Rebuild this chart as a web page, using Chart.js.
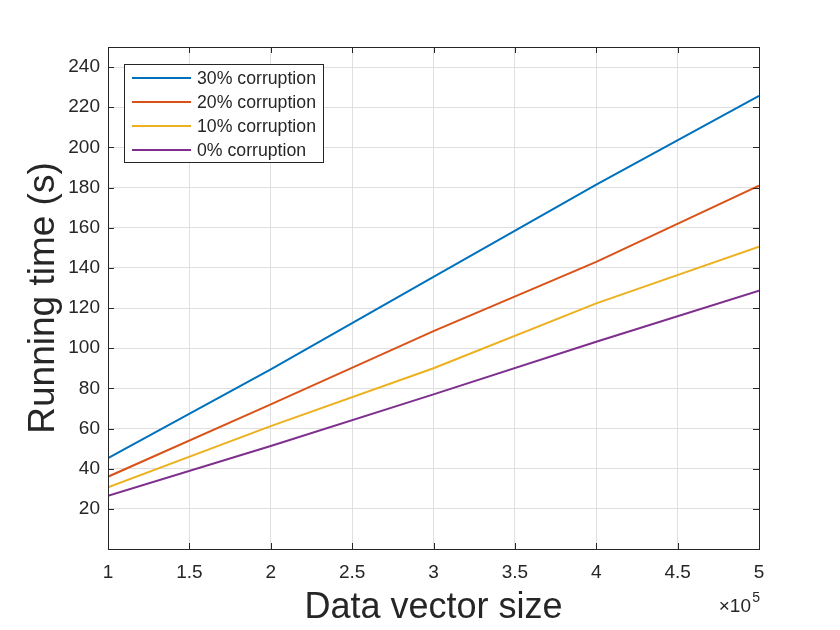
<!DOCTYPE html>
<html>
<head>
<meta charset="utf-8">
<script src="https://cdn.jsdelivr.net/npm/chart.js@4.4.0/dist/chart.umd.min.js"></script>
<style>
  html, body { margin: 0; padding: 0; background: #fff; }
  #wrap { width: 840px; height: 630px; }
</style>
</head>
<body>
<div id="wrap"><canvas id="chart"></canvas></div>
<script>
// data
var sizes = [100000, 200000, 300000, 400000, 500000];
var corr30 = [45.3, 89.5, 135.5, 181.5, 225.7];
var corr20 = [36.0, 72.0, 108.5, 143.0, 181.0];
var corr10 = [30.7, 61.2, 90.0, 122.3, 150.5];
var corr0 = [26.5, 51.3, 77.0, 103.2, 128.6];
var seriesLabels = ['30% corruption', '20% corruption', '10% corruption', '0% corruption'];
var xTicks = [100000, 150000, 200000, 250000, 300000, 350000, 400000, 450000, 500000];
var yTicks = [20, 40, 60, 80, 100, 120, 140, 160, 180, 200, 220, 240];

var colors = ['#0072BD', '#D95319', '#EDB120', '#7E2F8E'];
var textColor = '#262626';
var fontFamily = '"Liberation Sans", Arial, Helvetica, sans-serif';

function toPoints(ys) {
    return ys.map(function (y, i) { return { x: sizes[i], y: y }; });
}

var allSeries = [corr30, corr20, corr10, corr0];
var datasets = allSeries.map(function (ys, i) {
    return {
        label: seriesLabels[i],
        data: toPoints(ys),
        borderColor: colors[i],
        backgroundColor: colors[i],
        borderWidth: 2,
        pointRadius: 0,
        tension: 0,
        fill: false
    };
});

// box around the axes, inward ticks, x10^5 and the legend box
var matlabStyle = {
    id: 'matlabStyle',
    afterDraw: function (chart) {
        var ctx = chart.ctx;
        var a = chart.chartArea;
        var xs = chart.scales.x, ys = chart.scales.y;
        var tl = 6;
        ctx.save();
        ctx.strokeStyle = textColor;
        ctx.lineWidth = 1;
        ctx.beginPath();
        xs.ticks.forEach(function (t) {
            var px = Math.round(xs.getPixelForValue(t.value)) + 0.5;
            ctx.moveTo(px, a.bottom); ctx.lineTo(px, a.bottom - tl);
            ctx.moveTo(px, a.top); ctx.lineTo(px, a.top + tl);
        });
        ys.ticks.forEach(function (t) {
            var py = Math.round(ys.getPixelForValue(t.value)) + 0.5;
            ctx.moveTo(a.left, py); ctx.lineTo(a.left + tl, py);
            ctx.moveTo(a.right, py); ctx.lineTo(a.right - tl, py);
        });
        ctx.stroke();
        ctx.strokeRect(Math.round(a.left) + 0.5, Math.round(a.top) + 0.5,
            Math.round(a.right - a.left), Math.round(a.bottom - a.top));

        // exponent label
        ctx.fillStyle = textColor;
        ctx.textBaseline = 'alphabetic';
        ctx.textAlign = 'right';
        ctx.font = '14px ' + fontFamily;
        ctx.fillText('5', a.right + 1, 602);
        ctx.font = '19px ' + fontFamily;
        ctx.fillText('\u00d710', a.right - 8, 612);

        // legend
        var bx = 124.5, by = 64.5, bw = 199, bh = 98;
        ctx.fillStyle = '#fff';
        ctx.fillRect(bx, by, bw, bh);
        ctx.strokeStyle = textColor;
        ctx.strokeRect(bx, by, bw, bh);
        ctx.font = '17.7px ' + fontFamily;
        ctx.textAlign = 'left';
        ctx.textBaseline = 'middle';
        chart.data.datasets.forEach(function (ds, i) {
            var cy = 78 + i * 24;
            ctx.strokeStyle = ds.borderColor;
            ctx.lineWidth = 2;
            ctx.beginPath();
            ctx.moveTo(132, cy); ctx.lineTo(191, cy);
            ctx.stroke();
            ctx.fillStyle = textColor;
            ctx.fillText(ds.label, 197, cy + 1);
        });
        ctx.restore();
    }
};

var ctx = document.getElementById('chart').getContext('2d');
var chart = new Chart(ctx, {
    type: 'line',
    data: { datasets: datasets },
    plugins: [matlabStyle],
    options: {
        responsive: true,
        maintainAspectRatio: false,
        animation: false,
        devicePixelRatio: 1,
        layout: { padding: { top: 47, right: 81, left: 0, bottom: 0 } },
        plugins: {
            legend: { display: false },
            tooltip: { enabled: false }
        },
        scales: {
            x: {
                type: 'linear',
                min: 100000,
                max: 500000,
                afterFit: function (s) { s.height = 81; },
                afterBuildTicks: function (s) {
                    s.ticks = xTicks.map(function (v) { return { value: v }; });
                },
                grid: { color: '#dfdfdf', drawTicks: false },
                border: { display: false },
                ticks: {
                    padding: 12,
                    color: textColor,
                    font: { family: fontFamily, size: 19 },
                    maxRotation: 0,
                    callback: function (v) { return String(v / 100000); }
                },
                title: {
                    display: true,
                    text: 'Data vector size',
                    color: textColor,
                    font: { family: fontFamily, size: 36, lineHeight: 1 },
                    padding: { top: 0, bottom: 4 }
                }
            },
            y: {
                min: 0,
                max: 250,
                afterFit: function (s) { s.width = 108; },
                afterBuildTicks: function (s) {
                    s.ticks = yTicks.map(function (v) { return { value: v }; });
                },
                grid: { color: '#dfdfdf', drawTicks: false },
                border: { display: false },
                ticks: {
                    padding: 8,
                    color: textColor,
                    font: { family: fontFamily, size: 19 }
                },
                title: {
                    display: true,
                    text: 'Running time (s)',
                    color: textColor,
                    font: { family: fontFamily, size: 37, lineHeight: 1 },
                    padding: { top: 25, bottom: 0 }
                }
            }
        }
    }
});
</script>
</body>
</html>
